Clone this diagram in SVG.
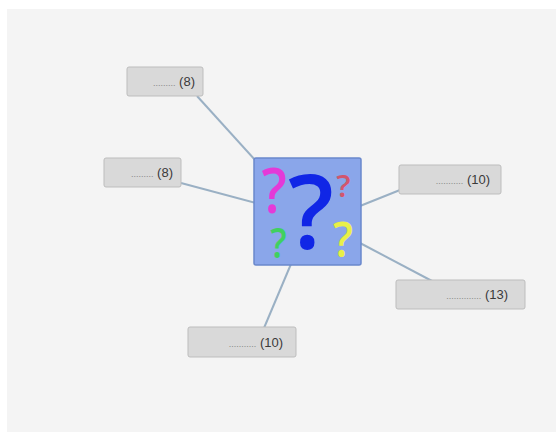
<svg xmlns="http://www.w3.org/2000/svg" width="556" height="432" viewBox="0 0 556 432">
<style>
.lbl rect{fill:#d9d9d9;stroke:#bdbdbd;stroke-width:1}
.lbl text{font-family:"Liberation Sans",Arial,sans-serif;font-size:13px;fill:#3a3a3a}
.dots{font-size:9px;fill:#888}
.q{font-family:"Open Sans","Liberation Sans",sans-serif;font-weight:600;text-anchor:middle}
#connectors line{stroke:#9ab0c4;stroke-width:2}
</style>
<rect x="0" y="0" width="556" height="432" fill="#ffffff"/>
<rect x="7" y="9" width="549" height="423" fill="#f4f4f4"/>
<g id="connectors">
<line x1="197" y1="96" x2="256" y2="161"/>
<line x1="181" y1="183" x2="256" y2="203"/>
<line x1="400" y1="190" x2="360" y2="206"/>
<line x1="432" y1="281" x2="360" y2="243"/>
<line x1="264" y1="328" x2="291" y2="264"/>
</g>
<g id="center">
<rect x="254" y="158" width="107" height="107" rx="2" fill="#8aa6ea" stroke="#6a88cc" stroke-width="1.5"/>
<text class="q" transform="translate(274,213) scale(0.88,1)" font-size="63" fill="#e43ad8">?</text>
<text class="q" transform="translate(343.5,197) scale(1.05,1)" font-size="30" fill="#d2566e">?</text>
<text class="q" transform="translate(311,249) scale(0.98,1)" font-size="103" fill="#1026e6">?</text>
<text class="q" transform="translate(278.5,258) scale(0.88,1)" font-size="41" fill="#40d060">?</text>
<text class="q" transform="translate(343,257) scale(0.92,1)" font-size="48" fill="#e8f048">?</text>
</g>
<g id="n1" class="lbl"><rect x="127" y="67" width="76" height="29" rx="2"/><text x="195" y="86" text-anchor="end"><tspan class="dots">.........</tspan> (8)</text></g>
<g id="n2" class="lbl"><rect x="104" y="158" width="77" height="29" rx="2"/><text x="173" y="177" text-anchor="end"><tspan class="dots">.........</tspan> (8)</text></g>
<g id="n3" class="lbl"><rect x="399" y="165" width="102" height="29" rx="2"/><text x="490" y="184" text-anchor="end"><tspan class="dots">...........</tspan> (10)</text></g>
<g id="n4" class="lbl"><rect x="396" y="280" width="129" height="29" rx="2"/><text x="508" y="299" text-anchor="end"><tspan class="dots">..............</tspan> (13)</text></g>
<g id="n5" class="lbl"><rect x="188" y="327" width="108" height="30" rx="2"/><text x="283" y="347" text-anchor="end"><tspan class="dots">...........</tspan> (10)</text></g>
</svg>
